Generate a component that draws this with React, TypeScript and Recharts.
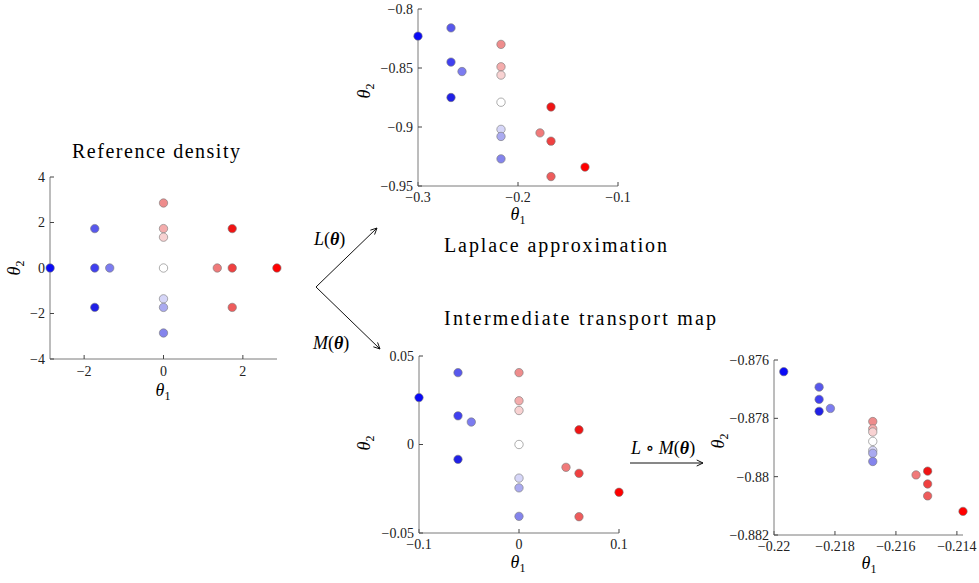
import React from 'react';
import { ScatterChart, Scatter, XAxis, YAxis, Cell } from 'recharts';

// sample points, same order in every panel (colour follows the point)
const refTheta1 = [-2.857, -1.732, -1.732, -1.732, -1.355, 0, 0, 0, 0, 0, 0, 0, 1.355, 1.732, 1.732, 1.732, 2.857];
const refTheta2 = [0, 1.732, 0, -1.732, 0, 2.857, 1.732, 1.355, 0, -1.355, -1.732, -2.857, 0, 1.732, 0, -1.732, 0];

const laplaceTheta1 = [-0.3, -0.267, -0.267, -0.267, -0.256, -0.217, -0.217, -0.217, -0.217, -0.217, -0.217, -0.217, -0.178, -0.167, -0.167, -0.167, -0.133];
const laplaceTheta2 = [-0.823, -0.816, -0.845, -0.875, -0.853, -0.83, -0.849, -0.856, -0.879, -0.902, -0.908, -0.927, -0.905, -0.883, -0.912, -0.942, -0.934];

const interTheta1 = [-0.1, -0.061, -0.061, -0.061, -0.0477, 0, 0, 0, 0, 0, 0, 0, 0.047, 0.06, 0.06, 0.06, 0.1];
const interTheta2 = [0.0265, 0.0406, 0.0162, -0.0084, 0.0127, 0.0406, 0.0247, 0.0192, 0, -0.019, -0.0245, -0.0406, -0.0129, 0.0083, -0.0163, -0.0408, -0.027];

const finalTheta1 = [-0.21968, -0.21852, -0.21852, -0.21852, -0.21815, -0.21676, -0.21676, -0.21676, -0.21676, -0.21676, -0.21676, -0.21676, -0.21534, -0.21496, -0.21496, -0.21496, -0.2138];
const finalTheta2 = [-0.8764, -0.87693, -0.87735, -0.87776, -0.87766, -0.87811, -0.87836, -0.87847, -0.87879, -0.8791, -0.8792, -0.87948, -0.87994, -0.87981, -0.88025, -0.88066, -0.88119];

const refTicksX = [-2, 0, 2];
const refTicksY = [-4, -2, 0, 2, 4];
const laplaceTicksX = [-0.3, -0.2, -0.1];
const laplaceTicksY = [-0.95, -0.9, -0.85, -0.8];
const interTicksX = [-0.1, 0, 0.1];
const interTicksY = [-0.05, 0, 0.05];
const finalTicksX = [-0.22, -0.218, -0.216, -0.214];
const finalTicksY = [-0.882, -0.88, -0.878, -0.876];

const pointColors = [
    '#0a0af6', '#5858ec', '#4040f0', '#2020e6', '#7c7cf0',
    '#ee8c8c', '#f4acac', '#f8d2d2', '#ffffff', '#d6d6f8', '#aaaaf0', '#8484ec',
    '#f07a7a', '#f01414', '#f04040', '#ee5c5c', '#ff0000',
];

const FONT = "'Liberation Serif', 'DejaVu Serif', serif";
const AXIS = '#7a7a7a';
const minus = (v: number) => String(v).replace('-', '\u2212');

interface Box { x0: number; x1: number; y0: number; y1: number }

function Panel({ box, xs, ys, xDomain, yDomain, xTicks, yTicks, xMargin }: {
    box: Box; xs: number[]; ys: number[];
    xDomain: [number, number]; yDomain: [number, number];
    xTicks: number[]; yTicks: number[]; xMargin: number;
}) {
    const yw = 70, mt = 12, mr = 14, xh = 34;
    const w = box.x1 - box.x0 + yw + mr;
    const h = box.y1 - box.y0 + mt + xh;
    const data = xs.map((t1, i) => ({ t1, t2: ys[i] }));
    const tick = { fontFamily: FONT, fontSize: 14, fill: '#222' };
    return (
        <div style={{ position: 'absolute', left: box.x0 - yw, top: box.y0 - mt }}>
            <ScatterChart width={w} height={h} margin={{ top: mt, right: mr, bottom: 0, left: 0 }}>
                <XAxis type="number" dataKey="t1" domain={xDomain} ticks={xTicks} interval={0} height={xh}
                    tick={tick} tickFormatter={minus} tickSize={-4} tickMargin={xMargin}
                    axisLine={{ stroke: AXIS }} tickLine={{ stroke: '#444' }} />
                <YAxis type="number" dataKey="t2" domain={yDomain} ticks={yTicks} interval={0} width={yw}
                    tick={tick} tickFormatter={minus} tickSize={-4} tickMargin={9}
                    axisLine={{ stroke: AXIS }} tickLine={{ stroke: '#444' }} />
                <Scatter data={data} isAnimationActive={false}
                    shape={(p: any) => <circle cx={p.cx} cy={p.cy} r={4.2} fill={p.fill} stroke="#777" strokeWidth={0.6} />}>
                    {data.map((_, i) => <Cell key={i} fill={pointColors[i]} />)}
                </Scatter>
            </ScatterChart>
        </div>
    );
}

const Theta = ({ x, y, sub, rotate }: { x: number; y: number; sub: string; rotate?: boolean }) => (
    <text x={x} y={y} textAnchor="middle" fontSize={18} fontStyle="italic"
        transform={rotate ? `rotate(-90 ${x} ${y})` : undefined}>
        θ<tspan fontStyle="normal" fontSize={12} dy={4}>{sub}</tspan>
    </text>
);

const Arrow = ({ x1, y1, x2, y2 }: { x1: number; y1: number; x2: number; y2: number }) => {
    const a = Math.atan2(y2 - y1, x2 - x1);
    const l = 7, s = 0.45;
    return (
        <g stroke="#111" strokeWidth={1} fill="none">
            <line x1={x1} y1={y1} x2={x2} y2={y2} />
            <line x1={x2} y1={y2} x2={x2 - l * Math.cos(a - s)} y2={y2 - l * Math.sin(a - s)} />
            <line x1={x2} y1={y2} x2={x2 - l * Math.cos(a + s)} y2={y2 - l * Math.sin(a + s)} />
        </g>
    );
};

export default function App() {
    return (
        <div style={{ position: 'absolute', left: 0, top: 0, width: 979, height: 583, background: '#fff', fontFamily: FONT }}>
            <Panel box={{ x0: 50, x1: 277, y0: 177, y1: 359 }} xs={refTheta1} ys={refTheta2}
                xDomain={[-2.86, 2.86]} yDomain={[-4, 4]} xTicks={refTicksX} yTicks={refTicksY} xMargin={11} />
            <Panel box={{ x0: 418, x1: 618, y0: 9, y1: 186 }} xs={laplaceTheta1} ys={laplaceTheta2}
                xDomain={[-0.3, -0.1]} yDomain={[-0.95, -0.8]} xTicks={laplaceTicksX} yTicks={laplaceTicksY} xMargin={10} />
            <Panel box={{ x0: 419, x1: 619, y0: 356, y1: 533 }} xs={interTheta1} ys={interTheta2}
                xDomain={[-0.1, 0.1]} yDomain={[-0.05, 0.05]} xTicks={interTicksX} yTicks={interTicksY} xMargin={10} />
            <Panel box={{ x0: 774, x1: 963, y0: 360, y1: 535 }} xs={finalTheta1} ys={finalTheta2}
                xDomain={[-0.22, -0.2138]} yDomain={[-0.882, -0.876]} xTicks={finalTicksX} yTicks={finalTicksY} xMargin={10} />

            <svg width={979} height={583} fontFamily={FONT}
                style={{ position: 'absolute', left: 0, top: 0, pointerEvents: 'none', fontFamily: FONT }}>
                <text x={72} y={158} fontSize={20} textLength={168} lengthAdjust="spacing">Reference density</text>
                <text x={444} y={252} fontSize={20} textLength={223} lengthAdjust="spacing">Laplace approximation</text>
                <text x={444} y={325} fontSize={20} textLength={272} lengthAdjust="spacing">Intermediate transport map</text>

                <Theta x={163} y={396} sub="1" />
                <Theta x={20} y={268} sub="2" rotate />
                <Theta x={518} y={220} sub="1" />
                <Theta x={370} y={91} sub="2" rotate />
                <Theta x={518} y={568} sub="1" />
                <Theta x={370} y={443} sub="2" rotate />
                <Theta x={869} y={569} sub="1" />
                <Theta x={724} y={441} sub="2" rotate />

                <Arrow x1={316} y1={287} x2={377} y2={228} />
                <Arrow x1={316} y1={287} x2={380} y2={349} />
                <Arrow x1={630} y1={463} x2={703} y2={463} />

                <text x={314} y={245} fontSize={18}>
                    <tspan fontStyle="italic">L</tspan>(<tspan fontWeight="bold" fontStyle="italic">θ</tspan>)
                </text>
                <text x={313} y={349} fontSize={18}>
                    <tspan fontStyle="italic">M</tspan>(<tspan fontWeight="bold" fontStyle="italic">θ</tspan>)
                </text>
                <text x={631} y={454} fontSize={18}>
                    <tspan fontStyle="italic">L</tspan> ∘ <tspan fontStyle="italic">M</tspan>(<tspan fontWeight="bold" fontStyle="italic">θ</tspan>)
                </text>
            </svg>
        </div>
    );
}
